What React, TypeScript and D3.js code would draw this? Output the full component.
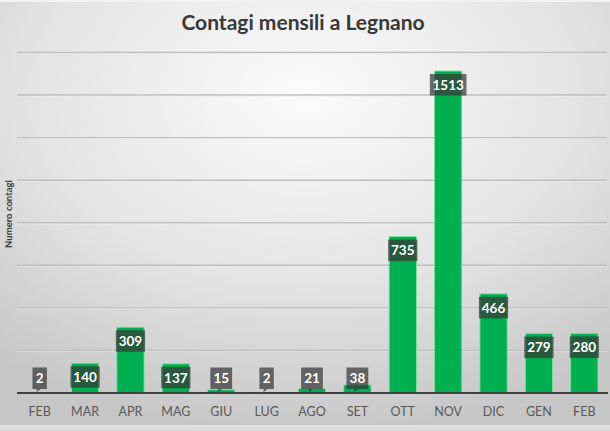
import React from "react";
import * as d3 from "d3";

const months: string[] = ["FEB", "MAR", "APR", "MAG", "GIU", "LUG", "AGO", "SET", "OTT", "NOV", "DIC", "GEN", "FEB "];
const contagi: number[] = [2, 140, 309, 137, 15, 2, 21, 38, 735, 1513, 466, 279, 280];
const yTicks: number[] = [0, 200, 400, 600, 800, 1000, 1200, 1400, 1600];

const W = 610;
const H = 431;
const plotLeft = 17;
const plotRight = 607;
const plotTop = 52.5;
const plotBottom = 393;

export default function App() {
  const x = d3.scaleBand<string>().domain(months).range([plotLeft, plotRight]).paddingInner(0.4).paddingOuter(0.2);
  const y = d3.scaleLinear().domain([0, 1600]).range([plotBottom, plotTop]);
  const labelFont = "Lato, 'Open Sans', sans-serif";

  return (
    <div style={{ position: "absolute", left: 0, top: 0 }}>
      <svg width={W} height={H} style={{ display: "block" }}>
        <defs>
          <radialGradient id="bg" cx="50%" cy="22%" r="80%">
            <stop offset="0%" stopColor="#fbfbfb" />
            <stop offset="55%" stopColor="#e4e4e4" />
            <stop offset="100%" stopColor="#c6c6c6" />
          </radialGradient>
        </defs>
        <rect x={0} y={0} width={W} height={H} fill="url(#bg)" />
        <rect x={0} y={0} width={W} height={2} fill="#f2f2f2" />
        <rect x={0} y={425.5} width={W} height={1.2} fill="#f4f4f4" />
        <rect x={0} y={426.7} width={W} height={H - 426.7} fill="#dcdcdc" />

        <text x={303} y={30} textAnchor="middle" fontFamily={labelFont} fontWeight={700} fontSize={21} fill="#383838">
          Contagi mensili a Legnano
        </text>

        <text
          transform={`translate(12,${214}) rotate(-90)`}
          textAnchor="middle"
          fontFamily={labelFont}
          fontWeight={700}
          fontSize={9.5}
          fill="#3a3a3a"
        >
          Numero contagi
        </text>

        {yTicks.filter((t) => t > 0).map((t) => (
          <g key={t}>
            <line x1={plotLeft} x2={plotRight} y1={y(t)} y2={y(t)} stroke="#bdbdbd" strokeWidth={1.4} />
            <line x1={plotLeft} x2={plotRight} y1={y(t) + 1.2} y2={y(t) + 1.2} stroke="#f0f0f0" strokeWidth={0.8} opacity={0.7} />
          </g>
        ))}

        {contagi.map((v, i) => {
          const m = months[i];
          const bx = x(m)!;
          const bw = x.bandwidth();
          const top = y(v);
          return (
            <rect key={"b" + i} x={bx} y={top} width={bw} height={plotBottom - top} fill="#00b050" stroke="#7fe0a4" strokeWidth={0.8} />
          );
        })}

        <line x1={plotLeft} x2={608} y1={plotBottom} y2={plotBottom} stroke="#404040" strokeWidth={2.2} />

        {contagi.map((v, i) => {
          const m = months[i];
          const cx = x(m)! + x.bandwidth() / 2;
          const label = String(v);
          const tw = label.length * 7.4;
          const boxW = tw + 7;
          const boxH = 21.5;
          const top = Math.min(y(v) + 3, 367.5);
          const small = y(v) + 3 > 367.5;
          return (
            <g key={"l" + i}>
              <rect x={cx - boxW / 2} y={top} width={boxW} height={boxH} fill="rgb(55,55,55)" fillOpacity={0.72} />
              {small && (
                <path
                  d={`M${cx - 3},${top + boxH} L${cx - 3},${top + boxH + 3} L${cx + 1},${top + boxH} Z`}
                  fill="rgb(55,55,55)"
                  fillOpacity={0.72}
                />
              )}
              <text x={cx} y={top + boxH / 2 + 5} textAnchor="middle" fontFamily={labelFont} fontWeight={700} fontSize={13.5} fill="#ffffff">
                {label}
              </text>
            </g>
          );
        })}

        {months.map((m, i) => (
          <text
            key={"t" + i}
            x={x(m)! + x.bandwidth() / 2}
            y={416}
            textAnchor="middle"
            fontFamily={labelFont}
            fontSize={12.5}
            fill="#595959"
          >
            {m.trim()}
          </text>
        ))}
      </svg>
    </div>
  );
}
